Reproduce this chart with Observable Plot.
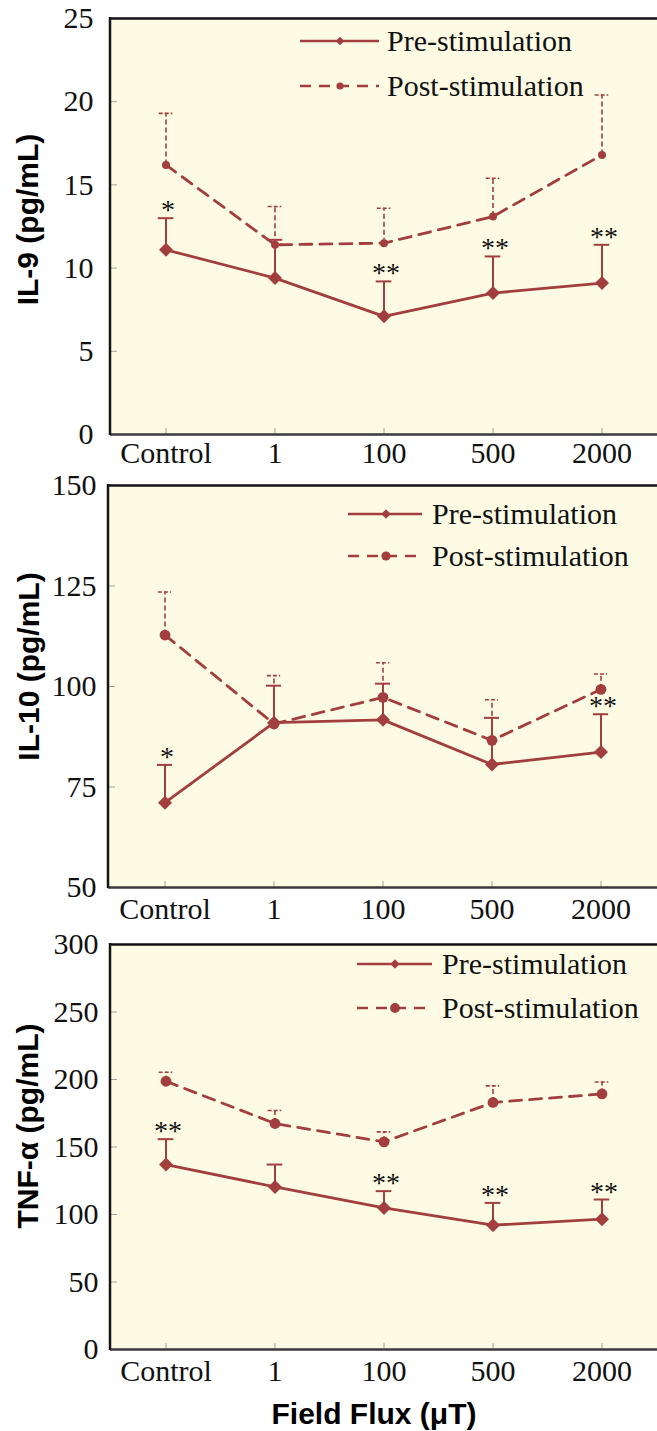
<!DOCTYPE html>
<html><head><meta charset="utf-8">
<script src="https://cdn.jsdelivr.net/npm/d3@7"></script>
<script src="https://cdn.jsdelivr.net/npm/@observablehq/plot@0.6"></script>
<style>
body{margin:0;background:#fff;}
#wrap{position:relative;width:657px;height:1431px;overflow:hidden;background:#fff;}
.panel{position:absolute;left:0;}
.panel svg{overflow:visible;}
#xtitle{position:absolute;top:1397px;left:0;width:748px;text-align:center;line-height:30px;font:bold 30px "Liberation Sans",Arial,sans-serif;color:#000;}
</style></head>
<body><div id="wrap"><div id="xtitle">Field Flux (μT)</div></div>
<script>
// ---- data ----
const doses = ["Control", "1", "100", "500", "2000"];

const il9Pre      = [11.1, 9.4, 7.1, 8.5, 9.1];
const il9PreErr   = [13.0, 11.7, 9.2, 10.7, 11.4];
const il9Post     = [16.2, 11.4, 11.5, 13.1, 16.8];
const il9PostErr  = [19.3, 13.7, 13.6, 15.4, 20.4];
const il9Sig      = ["*", "", "**", "**", "**"];
const il9Ticks    = [0, 5, 10, 15, 20, 25];

const il10Pre     = [71.1, 91.0, 91.7, 80.6, 83.7];
const il10PreErr  = [80.5, 100.2, 100.7, 92.2, 93.1];
const il10Post    = [112.8, 90.7, 97.3, 86.6, 99.3];
const il10PostErr = [123.5, 102.7, 105.9, 96.7, 103.1];
const il10Sig     = ["*", "", "", "", "**"];
const il10Ticks   = [50, 75, 100, 125, 150];

const tnfPre      = [137.0, 120.4, 104.9, 92.1, 96.5];
const tnfPreErr   = [155.8, 137.0, 117.3, 108.6, 111.1];
const tnfPost     = [198.7, 167.4, 153.8, 183.0, 189.3];
const tnfPostErr  = [205.4, 177.0, 161.2, 195.3, 198.2];
const tnfSig      = ["**", "", "**", "**", "**"];
const tnfTicks    = [0, 50, 100, 150, 200, 250, 300];

const seriesNames = ["Pre-stimulation", "Post-stimulation"];

// ---- style ----
const RED = "#a23e3e";
const CREAM = "#fdfbe4";
const SERIF = '"Liberation Serif","Times New Roman",serif';
const SANS = '"Liberation Sans",Arial,sans-serif';
const W = 657;

function panel(cfg) {
  const rows = doses.map((d, i) => ({
    dose: d, pre: cfg.pre[i], preErr: cfg.preErr[i],
    post: cfg.post[i], postErr: cfg.postErr[i], sig: cfg.sig[i]
  }));
  const plotH = cfg.plotH;
  const height = cfg.mt + plotH + cfg.mb;
  const bw = (W - cfg.ml) / doses.length;
  const yMin = cfg.ticks[0], yMax = cfg.ticks[cfg.ticks.length - 1];

  const leftBorder = () => {
    const l = d3.create("svg:line")
      .attr("x1", cfg.ml).attr("x2", cfg.ml)
      .attr("y1", cfg.mt - 1).attr("y2", cfg.mt + plotH + 1)
      .attr("stroke", "#151515").attr("stroke-width", 2.5);
    return l.node();
  };

  const legend = () => {
    const g = d3.create("svg:g");
    const L = cfg.leg;
    // row 1: solid + diamond
    g.append("line").attr("x1", L.x1).attr("x2", L.x2).attr("y1", L.y1).attr("y2", L.y1)
      .attr("stroke", RED).attr("stroke-width", 2.5);
    g.append("path").attr("transform", `translate(${L.mx},${L.y1})`)
      .attr("d", d3.symbol(d3.symbolDiamond2, L.ds)()).attr("fill", RED);
    g.append("text").attr("x", L.tx).attr("y", L.y1).attr("dy", "0.33em").attr("text-anchor", "start")
      .attr("font-family", SERIF).attr("font-size", 30).attr("fill", "#111").text(seriesNames[0]);
    // row 2: dashed + circle
    g.append("line").attr("x1", L.x1).attr("x2", L.x2).attr("y1", L.y2).attr("y2", L.y2)
      .attr("stroke", RED).attr("stroke-width", 2.5).attr("stroke-dasharray", "11,8");
    g.append("circle").attr("cx", L.mx).attr("cy", L.y2).attr("r", L.cr).attr("fill", RED);
    g.append("text").attr("x", L.tx).attr("y", L.y2).attr("dy", "0.33em").attr("text-anchor", "start")
      .attr("font-family", SERIF).attr("font-size", 30).attr("fill", "#111").text(seriesNames[1]);
    return g.node();
  };

  const chart = Plot.plot({
    width: W, height,
    marginLeft: cfg.ml, marginRight: 0, marginTop: cfg.mt, marginBottom: cfg.mb,
    style: {fontFamily: SERIF, fontSize: "30px", background: "transparent", overflow: "visible", color: "#111"},
    x: {type: "band", domain: doses, padding: 0, axis: null},
    y: {domain: [yMin, yMax], axis: null},
    marks: [
      Plot.frame({fill: CREAM, stroke: "none"}),
      // inward ticks
      Plot.axisY({ticks: cfg.ticks, tickSize: 7, dx: 7, fill: "none", stroke: "#a0a0a0", label: null}),
      Plot.axisX({tickSize: 6, dy: -6, fill: "none", stroke: "#a0a0a0", label: null}),
      // tick labels
      Plot.axisY({ticks: cfg.ticks, tickSize: 0, tickPadding: cfg.ytp, tickFormat: d => String(d), label: null, fontSize: 30}),
      Plot.axisX({tickSize: 0, tickPadding: cfg.xtp, label: null, fontSize: 30}),
      // borders
      Plot.ruleY([yMin], {stroke: "#3a3a3a", strokeWidth: 2.5}),
      Plot.ruleY([yMax], {stroke: "#111", strokeWidth: 2.5}),
      leftBorder,
      // error bars (post, dashed)
      Plot.ruleX(rows, {x: "dose", y1: "post", y2: "postErr", stroke: RED, strokeWidth: 1.6, strokeDasharray: "5,3"}),
      Plot.tickY(rows, {x: "dose", y: "postErr", stroke: RED, strokeWidth: 1.6, strokeDasharray: "4,2",
        insetLeft: bw / 2 - 7, insetRight: bw / 2 - 7}),
      // error bars (pre, solid)
      Plot.ruleX(rows, {x: "dose", y1: "pre", y2: "preErr", stroke: RED, strokeWidth: 2}),
      Plot.tickY(rows, {x: "dose", y: "preErr", stroke: RED, strokeWidth: 2,
        insetLeft: bw / 2 - 8, insetRight: bw / 2 - 8}),
      // lines
      Plot.line(rows, {x: "dose", y: "post", stroke: RED, strokeWidth: 2.8, strokeDasharray: "12,8"}),
      Plot.line(rows, {x: "dose", y: "pre", stroke: RED, strokeWidth: 2.8}),
      // markers
      Plot.dot(rows, {x: "dose", y: "post", r: cfg.cr, fill: RED, stroke: null}),
      Plot.dot(rows, {x: "dose", y: "pre", symbol: "diamond2", r: 6.3, fill: RED, stroke: null}),
      // significance
      Plot.text(rows.filter(r => r.sig), {x: "dose", y: "preErr", text: "sig", dx: 2, dy: 1,
        lineAnchor: "bottom", fontSize: 28, fill: "#111"}),
      // y title
      Plot.text([cfg.title], {text: d => d, frameAnchor: "left", textAnchor: "middle", rotate: -90,
        dx: cfg.tdx, dy: cfg.tdy, fontFamily: SANS, fontWeight: "bold", fontSize: 30, fill: "#000"}),
      legend
    ]
  });
  const div = document.createElement("div");
  div.className = "panel";
  div.style.top = cfg.top + "px";
  div.appendChild(chart);
  document.getElementById("wrap").appendChild(div);
}

panel({
  title: "IL-9 (pg/mL)", pre: il9Pre, preErr: il9PreErr, post: il9Post, postErr: il9PostErr, sig: il9Sig,
  ticks: il9Ticks, top: 0, mt: 18, plotH: 416, mb: 36, ml: 110, ytp: 17, xtp: 7, cr: 4,
  tdx: -82, tdy: -7,
  leg: {x1: 300, x2: 379, mx: 340, tx: 387, y1: 41, y2: 86, ds: 45, cr: 3.6}
});
panel({
  title: "IL-10 (pg/mL)", pre: il10Pre, preErr: il10PreErr, post: il10Post, postErr: il10PostErr, sig: il10Sig,
  ticks: il10Ticks, top: 470, mt: 15, plotH: 402, mb: 53, ml: 108, ytp: 12, xtp: 10, cr: 5.4,
  tdx: -79, tdy: -20,
  leg: {x1: 348, x2: 422, mx: 386, tx: 432, y1: 44, y2: 86, ds: 55, cr: 4.6}
});
panel({
  title: "TNF-α (pg/mL)", pre: tnfPre, preErr: tnfPreErr, post: tnfPost, postErr: tnfPostErr, sig: tnfSig,
  ticks: tnfTicks, top: 925, mt: 19, plotH: 405, mb: 45, ml: 110, ytp: 12, xtp: 10, cr: 5.4,
  tdx: -82, tdy: -21,
  leg: {x1: 357, x2: 432, mx: 395, tx: 442, y1: 39, y2: 83, ds: 55, cr: 4.9}
});
</script>
</body></html>
